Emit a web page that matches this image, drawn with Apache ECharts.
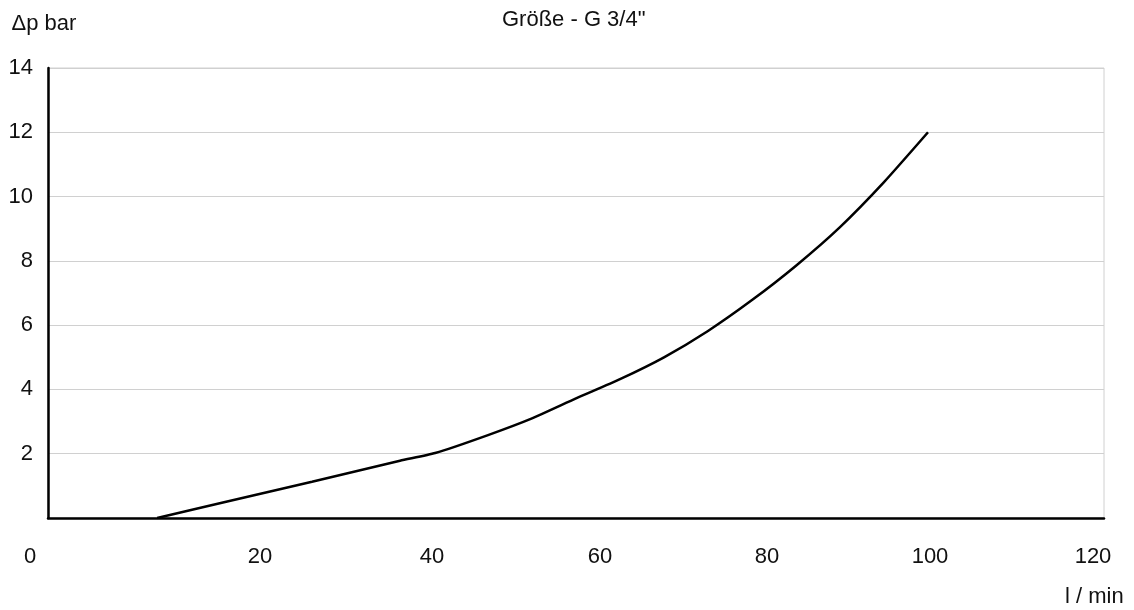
<!DOCTYPE html>
<html>
<head>
<meta charset="utf-8">
<script src="https://cdn.jsdelivr.net/npm/echarts@6/dist/echarts.min.js"></script>
<style>
  html, body { margin: 0; padding: 0; background: #ffffff; }
  #chart { width: 1134px; height: 610px; }
</style>
</head>
<body>
<div id="chart"></div>
<script>
// ---- data ----
const chartTitle = 'Größe - G 3/4"';
const yAxisName = '\u0394p bar';
const xAxisName = 'l / min';
const flowValues = [12.4, 20, 30, 40, 44, 50, 55, 60, 65, 70, 75, 80, 85, 90, 95, 100];
const pressureValues = [0, 0.49, 1.13, 1.78, 2.02, 2.58, 3.1, 3.72, 4.32, 5.0, 5.82, 6.78, 7.85, 9.05, 10.45, 12.0];
const xTickValues = [0, 20, 40, 60, 80, 100, 120];
const yTickValues = [2, 4, 6, 8, 10, 12, 14];

// ---- layout (label shifts in px, as in reference) ----
const xLabelShift = [-18, 36, 32, 24, 15, 2, -11];
const FONT = '"Liberation Sans", Arial, Helvetica, sans-serif';
const FS = 22;

const rich = {};
xTickValues.forEach(function (v, i) {
  const s = xLabelShift[i];
  rich['t' + i] = {
    fontFamily: FONT, fontSize: FS, color: '#111',
    padding: s >= 0 ? [0, 0, 0, 2 * s] : [0, -2 * s, 0, 0]
  };
});

const seriesData = flowValues.map(function (x, i) { return [x, pressureValues[i]]; });

const chart = echarts.init(document.getElementById('chart'), null, { renderer: 'canvas' });
chart.setOption({
  animation: false,
  backgroundColor: '#ffffff',
  title: {
    text: chartTitle,
    left: 502,
    top: 9,
    padding: 0,
    textStyle: { fontFamily: FONT, fontSize: FS, fontWeight: 'normal', color: '#111' }
  },
  grid: {
    left: 48, right: 30, top: 68, bottom: 92,
    outerBoundsMode: 'none',
    show: true, borderColor: '#d0d0d0', borderWidth: 1, containLabel: false
  },
  xAxis: {
    type: 'value',
    min: 0, max: 120, interval: 20,
    name: xAxisName,
    nameLocation: 'end',
    nameGap: -39,
    nameMoveOverlap: false,
    nameTextStyle: {
      fontFamily: FONT, fontSize: FS, color: '#111',
      verticalAlign: 'top', lineHeight: 24, padding: [67, 0, 0, 0]
    },
    axisLine: { show: true, onZero: false, lineStyle: { color: '#000', width: 2.5 } },
    axisTick: { show: false },
    splitLine: { show: false },
    axisLabel: {
      margin: 28,
      showMinLabel: true, showMaxLabel: true,
      formatter: function (v) {
        const i = xTickValues.indexOf(v);
        return i >= 0 ? '{t' + i + '|' + v + '}' : '';
      },
      rich: rich
    }
  },
  yAxis: {
    type: 'value',
    min: 0, max: 14, interval: 2,
    name: yAxisName,
    nameLocation: 'end',
    nameGap: 33,
    nameMoveOverlap: false,
    nameTextStyle: {
      fontFamily: FONT, fontSize: FS, color: '#111',
      align: 'center', padding: [0, 8, 0, 0]
    },
    axisLine: { show: true, lineStyle: { color: '#000', width: 2.5 } },
    axisTick: { show: false },
    splitLine: { show: true, lineStyle: { color: '#d0d0d0', width: 1 } },
    axisLabel: {
      margin: 15,
      fontFamily: FONT, fontSize: FS, color: '#111',
      formatter: function (v) { return yTickValues.indexOf(v) >= 0 ? String(v) : ''; }
    }
  },
  series: [{
    type: 'line',
    data: seriesData,
    showSymbol: false,
    smooth: 0.2,
    lineStyle: { color: '#000', width: 2.5 },
    z: 5
  }]
});
</script>
</body>
</html>
